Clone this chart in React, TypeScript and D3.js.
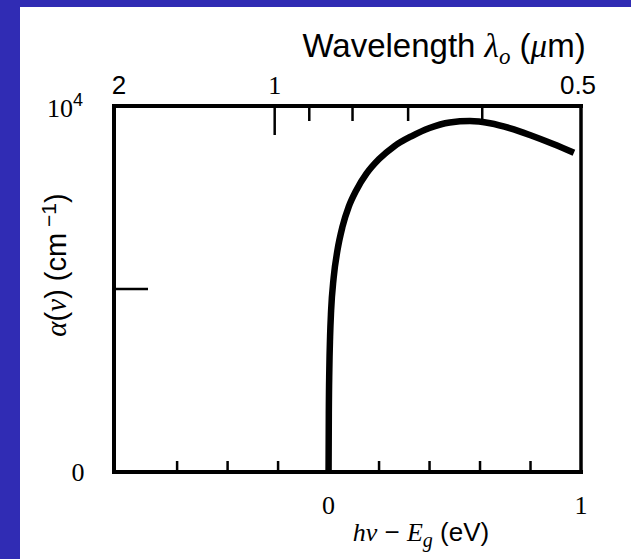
import React from "react";
import * as d3 from "d3";

// Absorption coefficient (units of 10^4 cm^-1) vs photon energy above the band gap (eV)
const energyAboveGap = [0, 0.001, 0.003, 0.006, 0.01, 0.02, 0.035, 0.055, 0.08, 0.11, 0.15, 0.2, 0.26, 0.33, 0.4, 0.48, 0.56, 0.64, 0.72, 0.8, 0.89, 0.972];
const alphaNorm = [0, 0.16, 0.28, 0.37, 0.44, 0.53, 0.605, 0.67, 0.725, 0.77, 0.815, 0.855, 0.89, 0.918, 0.94, 0.955, 0.959, 0.953, 0.939, 0.92, 0.896, 0.872];

// Bottom axis minor ticks (eV) and labelled ticks
const energyTicks = [-0.6, -0.4, -0.2, 0.2, 0.4, 0.6, 0.8];
const energyLabels = [0, 1];

// Top axis: wavelength in micrometres
const wavelengthTicks = [1, 0.9, 0.8, 0.7, 0.6];
const wavelengthLabels = ["2", "1", "0.5"];
const wavelengthMajor = [1];

const W = 631;
const H = 559;
const BLUE = "#302cb4";
const SANS = "'Liberation Sans', Arial, sans-serif";
const SERIF = "'Liberation Serif', 'Times New Roman', serif";

export default function App() {
  const left = 114, right = 581, top = 106, bottom = 472;
  const x = d3.scaleLinear().domain([-0.85, 1]).range([left, right]);
  const y = d3.scaleLinear().domain([0, 1]).range([bottom, top]);
  // photon energy (eV) for the wavelength axis: E = 1.24 / λ
  const xTop = d3.scaleLinear().domain([0.6, 2.46]).range([left, right]);
  const lam = (l: number) => xTop(1.24 / l);

  const pts: [number, number][] = energyAboveGap.map((e, i) => [e, alphaNorm[i]]);
  const line = d3
    .line<[number, number]>()
    .x((d) => x(d[0]))
    .y((d) => y(d[1]))
    .curve(d3.curveMonotoneX);

  return (
    <svg width={W} height={H} style={{ position: "absolute", left: 0, top: 0 }}>
      <rect x={0} y={0} width={W} height={H} fill={BLUE} />
      <rect x={20} y={7} width={W - 20} height={H - 7} fill="#ffffff" />

      {/* absorption curve */}
      <path d={line(pts) ?? ""} fill="none" stroke="#000" strokeWidth={6.5} />

      {/* frame */}
      <g stroke="#000" strokeLinecap="square">
        <line x1={left} y1={top} x2={right} y2={top} strokeWidth={4} />
        <line x1={left} y1={top} x2={left} y2={bottom} strokeWidth={4} />
        <line x1={left} y1={bottom} x2={right} y2={bottom} strokeWidth={4} />
        <line x1={right} y1={top} x2={right} y2={bottom} strokeWidth={3.5} />
      </g>

      {/* bottom ticks */}
      <g stroke="#000" strokeWidth={2.5}>
        {energyTicks.map((t) => (
          <line key={t} x1={x(t)} x2={x(t)} y1={bottom} y2={bottom - 11} />
        ))}
      </g>
      {/* top wavelength ticks */}
      <g stroke="#000" strokeWidth={2.5}>
        {wavelengthTicks.map((l) => (
          <line
            key={l}
            x1={lam(l)}
            x2={lam(l)}
            y1={top}
            y2={top + (wavelengthMajor.includes(l) ? 29 : 15)}
          />
        ))}
      </g>
      {/* mid y tick */}
      <line x1={left} x2={left + 34} y1={y(0.5)} y2={y(0.5)} stroke="#000" strokeWidth={2.5} />

      {/* bottom labels */}
      {energyLabels.map((e) => (
        <text key={e} x={x(e)} y={514} textAnchor="middle" fontFamily={SERIF} fontSize={26} fill="#000">
          {e}
        </text>
      ))}
      <text x={421} y={541} textAnchor="middle" fontSize={26} fill="#000">
        <tspan fontFamily={SERIF} fontStyle="italic">hν</tspan>
        <tspan fontFamily={SANS}> − </tspan>
        <tspan fontFamily={SERIF} fontStyle="italic">E</tspan>
        <tspan fontFamily={SERIF} fontStyle="italic" fontSize={20} dy={6}>g</tspan>
        <tspan fontFamily={SANS} dy={-6}> (eV)</tspan>
      </text>

      {/* top labels */}
      {wavelengthLabels.map((s) => (
        <text
          key={s}
          x={lam(parseFloat(s)) - (s === "0.5" ? 8 : 0)}
          y={94}
          textAnchor="middle"
          fontFamily={s === "1" ? SERIF : SANS}
          fontSize={26}
          fill="#000"
        >
          {s}
        </text>
      ))}
      <text x={444} y={57} textAnchor="middle" fontSize={33} fill="#000">
        <tspan fontFamily={SANS}>Wavelength </tspan>
        <tspan fontFamily={SERIF} fontStyle="italic">λ</tspan>
        <tspan fontFamily={SERIF} fontStyle="italic" fontSize={23} dy={7}>o</tspan>
        <tspan fontFamily={SANS} dy={-7}> (</tspan>
        <tspan fontFamily={SERIF} fontStyle="italic">μ</tspan>
        <tspan fontFamily={SANS}>m)</tspan>
      </text>

      {/* y labels */}
      <text x={65} y={117} textAnchor="middle" fontSize={26} fill="#000">
        <tspan fontFamily={SERIF}>10</tspan>
        <tspan fontFamily={SANS} fontSize={18} dy={-11}>4</tspan>
      </text>
      <text x={78} y={481} textAnchor="middle" fontFamily={SERIF} fontSize={26} fill="#000">
        0
      </text>
      <text transform="translate(66,265) rotate(-90)" textAnchor="middle" fontSize={29} fill="#000">
        <tspan fontFamily={SERIF} fontStyle="italic">α</tspan>
        <tspan fontFamily={SANS}>(</tspan>
        <tspan fontFamily={SERIF} fontStyle="italic">ν</tspan>
        <tspan fontFamily={SANS}>) (cm</tspan>
        <tspan fontFamily={SANS} fontSize={21} dy={-10}> −1</tspan>
        <tspan fontFamily={SANS} dy={10}>)</tspan>
      </text>
    </svg>
  );
}
